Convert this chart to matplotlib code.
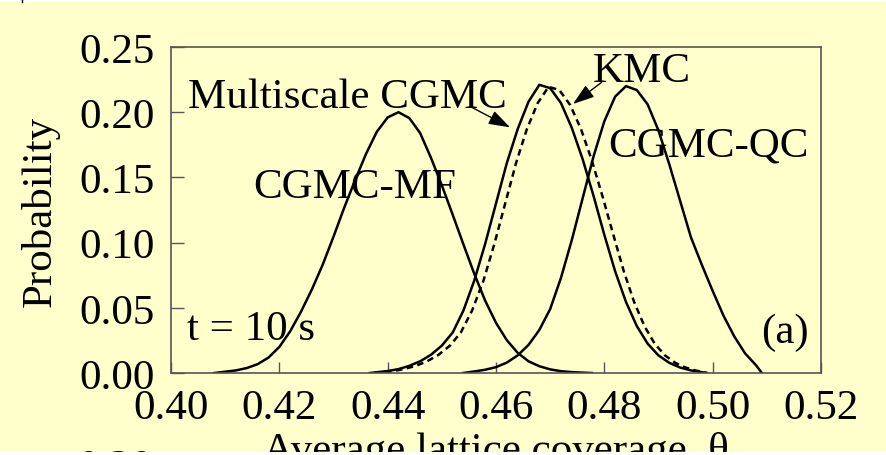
import numpy as np
import matplotlib
matplotlib.use("Agg")
import matplotlib.pyplot as plt
from matplotlib.patches import Rectangle
from matplotlib.lines import Line2D

plt.rcParams['font.family'] = ['Liberation Serif', 'DejaVu Serif']

bg = '#FFFFCC'
spine_col = '#555555'
fs = 31

# PROBABILITY DISTRIBUTIONS AT t = 10 s

# CGMC-MF
x_mf = [0.408, 0.410, 0.412, 0.414, 0.416, 0.418, 0.420, 0.422, 0.424, 0.426,
        0.428, 0.430, 0.432, 0.434, 0.436, 0.438, 0.440, 0.442, 0.444, 0.446,
        0.448, 0.450, 0.452, 0.454, 0.456, 0.458, 0.460, 0.462, 0.464, 0.466,
        0.468, 0.470, 0.472, 0.474, 0.476, 0.4777]
p_mf = [0.000, 0.0010, 0.0020, 0.0038, 0.0068, 0.0118, 0.0200, 0.0320, 0.0470, 0.0640,
        0.0830, 0.1045, 0.1270, 0.1480, 0.1680, 0.1850, 0.1960, 0.2000, 0.1955, 0.1840,
        0.1650, 0.1440, 0.1215, 0.0985, 0.0760, 0.0555, 0.0385, 0.0252, 0.0155, 0.0090,
        0.0052, 0.0028, 0.0014, 0.0007, 0.0003, 0.000]

# Multiscale CGMC
x_ms = [0.4367, 0.440, 0.442, 0.444, 0.446, 0.448, 0.450, 0.452, 0.454, 0.456,
        0.458, 0.460, 0.462, 0.464, 0.466, 0.468, 0.470, 0.472, 0.474, 0.476,
        0.478, 0.480, 0.482, 0.484, 0.486, 0.488, 0.490, 0.492, 0.494, 0.496,
        0.4989]
p_ms = [0.000, 0.0015, 0.0030, 0.0055, 0.0090, 0.0140, 0.0210, 0.0310, 0.0480, 0.0710,
        0.0990, 0.1300, 0.1610, 0.1870, 0.2080, 0.2210, 0.2185, 0.2070, 0.1880, 0.1640,
        0.1360, 0.1060, 0.0780, 0.0545, 0.0360, 0.0225, 0.0135, 0.0078, 0.0042, 0.0020,
        0.000]

# KMC
x_kmc = [0.4375, 0.4410, 0.4430, 0.4452, 0.4473, 0.4494, 0.4515, 0.4535, 0.4556, 0.4577,
         0.4597, 0.4617, 0.4637, 0.4657, 0.4677, 0.4697, 0.4717, 0.4737, 0.4757, 0.4777,
         0.4797, 0.4817, 0.4836, 0.4855, 0.4874, 0.4893, 0.4912, 0.4931, 0.4950, 0.4968,
         0.4990]
p_kmc = [0.000, 0.0015, 0.0030, 0.0055, 0.0090, 0.0140, 0.0210, 0.0310, 0.0480, 0.0710,
         0.0990, 0.1300, 0.1610, 0.1870, 0.2070, 0.2195, 0.2170, 0.2055, 0.1870, 0.1630,
         0.1350, 0.1055, 0.0780, 0.0545, 0.0360, 0.0225, 0.0135, 0.0078, 0.0042, 0.0020,
         0.000]

# CGMC-QC
x_qc = [0.4539, 0.456, 0.458, 0.460, 0.462, 0.464, 0.466, 0.468, 0.470, 0.472,
        0.474, 0.476, 0.478, 0.480, 0.482, 0.484, 0.486, 0.488, 0.490, 0.492,
        0.494, 0.496, 0.498, 0.500, 0.502, 0.504, 0.506, 0.508, 0.5091]
p_qc = [0.000, 0.0012, 0.0025, 0.0045, 0.0080, 0.0135, 0.0215, 0.0330, 0.0490, 0.0730,
        0.1020, 0.1340, 0.1660, 0.1930, 0.2120, 0.2200, 0.2170, 0.2060, 0.1860, 0.1600,
        0.1320, 0.1040, 0.0830, 0.0630, 0.0440, 0.0280, 0.0150, 0.0060, 0.000]

xticks = [0.40, 0.42, 0.44, 0.46, 0.48, 0.50, 0.52]
xticklabels = ['0.40', '0.42', '0.44', '0.46', '0.48', '0.50', '0.52']
yticks = [0.00, 0.05, 0.10, 0.15, 0.20, 0.25]
yticklabels = ['0.00', '0.05', '0.10', '0.15', '0.20', '0.25']

fig = plt.figure(figsize=(8.86, 4.56), dpi=100, facecolor=bg)
ax = fig.add_axes([0.1930, 0.1798, 0.7336, 0.7149])
ax.set_facecolor(bg)

ax.plot(x_mf, p_mf, color='k', lw=1.8, solid_joinstyle='round')
ax.plot(x_ms, p_ms, color='k', lw=1.8, solid_joinstyle='round')
ax.plot(x_kmc, p_kmc, color='k', lw=1.8, linestyle=(0, (2.6, 1.8)))
ax.plot(x_qc, p_qc, color='k', lw=1.8, solid_joinstyle='round')

ax.set_xlim(0.40, 0.52)
ax.set_ylim(0.0, 0.25)
ax.set_xticks(xticks)
ax.set_xticklabels(xticklabels, fontsize=fs)
ax.set_yticks(yticks)
ax.set_yticklabels(yticklabels, fontsize=fs)
ax.tick_params(axis='x', direction='in', length=8, width=1, color=spine_col, pad=11)
ax.tick_params(axis='y', direction='in', length=9, width=1, color=spine_col, pad=12)
for s in ax.spines.values():
    s.set_color(spine_col)
    s.set_linewidth(1.2)

ax.set_xlabel('Average lattice coverage, θ', fontsize=fs, labelpad=3)
ax.set_ylabel('Probability', fontsize=fs, labelpad=14)

# LABELS
ax.text(0.4031, 0.204, 'Multiscale CGMC', fontsize=fs, ha='left', va='baseline')
ax.text(0.4779, 0.2242, 'KMC', fontsize=fs, ha='left', va='baseline')
ax.text(0.4808, 0.1667, 'CGMC-QC', fontsize=fs, ha='left', va='baseline')
ax.text(0.4152, 0.1347, 'CGMC-MF', fontsize=fs, ha='left', va='baseline')
ax.text(0.4029, 0.0261, 't = 10 s', fontsize=fs, ha='left', va='baseline')
ax.text(0.5089, 0.0238, '(a)', fontsize=fs, ha='left', va='baseline')

arrow = dict(arrowstyle='-|>,head_length=0.6,head_width=0.2', color='k', lw=1.0,
             mutation_scale=22, shrinkA=0, shrinkB=0)
ax.annotate('', xy=(0.4626, 0.1884), xytext=(0.4555, 0.2038), arrowprops=arrow)
ax.annotate('', xy=(0.4742, 0.2063), xytext=(0.4795, 0.2229), arrowprops=arrow)

# edges of the neighbouring panels
fig.text(153 / 886, 1 - 450 / 456, '0.20', fontsize=fs, ha='right', va='top', zorder=5)
fig.add_artist(Rectangle((0, 1 - 3 / 456), 1, 3 / 456, transform=fig.transFigure,
                         facecolor='white', edgecolor='none', zorder=10))
fig.add_artist(Rectangle((0, 0), 1, 3 / 456, transform=fig.transFigure,
                         facecolor='white', edgecolor='none', zorder=10))
fig.add_artist(Line2D([22 / 886, 22 / 886], [1 - 3 / 456, 1], transform=fig.transFigure,
                      color='k', lw=1, zorder=11))

fig.savefig('out.png', dpi=100, facecolor=bg)
